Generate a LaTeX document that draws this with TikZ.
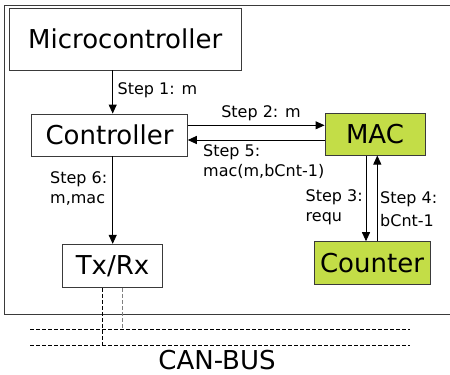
\documentclass[tikz,border=0pt]{standalone}
\usepackage{fontspec}
\setmainfont{DejaVu Sans}
\usetikzlibrary{arrows.meta}
\definecolor{limegreen}{HTML}{C3DD47}
\definecolor{edgegray}{HTML}{3A3A3A}
\tikzset{
  unit/.style={draw=edgegray, line width=0.9pt, inner sep=0pt, font=\fontsize{26}{30}\selectfont},
  hw/.style={unit, fill=limegreen},
  flow/.style={draw=black, line width=0.9pt, -{Triangle[length=9pt,width=8pt]}},
  steplbl/.style={font=\fontsize{16}{20}\selectfont, inner sep=0pt, align=left},
  bus/.style={line width=0.7pt, dash pattern=on 4pt off 2pt},
}
\begin{document}
\begin{tikzpicture}[x=1pt, y=-1pt]
\useasboundingbox (0,0) rectangle (450,375);
% enclosing frame of the node
\draw[draw=edgegray, line width=0.9pt] (4.5,5) rectangle (460,314.7);

% blocks
\node[unit, minimum width=232pt, minimum height=62pt] (mcu) at (125.2,39) {Microcontroller};
\node[unit, fill=white, minimum width=155.6pt, minimum height=42pt] (ctrl) at (109.5,135) {Controller};
\node[hw, minimum width=100pt, minimum height=41.7pt] (mac) at (375,134.2) {MAC};
\node[hw, minimum width=116pt, minimum height=42.3pt] (cnt) at (372,262.8) {Counter};
\node[unit, minimum width=100.4pt, minimum height=43pt] (trx) at (112.5,265.8) {Tx/Rx};

% message flow
\draw[flow] (mcu.south -| 112.7,0) -- (ctrl.north -| 112.7,0);
\node[steplbl, anchor=west] (l1) at (117.5,90) {Step 1: m};

\draw[flow] (ctrl.east |- 0,125.3) -- (mac.west |- 0,125.3);
\node[steplbl] (l2) at (261,113) {Step 2: m};

\draw[flow] (mac.west |- 0,140) -- (ctrl.east |- 0,140);
\node[steplbl, anchor=north west] (l5) at (203,144.5) {Step 5:\\mac(m,bCnt-1)};

\draw[flow] (ctrl.south -| 112.7,0) -- (trx.north -| 112.7,0);
\node[steplbl, anchor=north west] (l6) at (50,171) {Step 6:\\m,mac};

\draw[flow] (mac.south -| 366,0) -- (cnt.north -| 366,0);
\node[steplbl, anchor=north west] (l3) at (305.5,189.5) {Step 3:\\requ};

\draw[flow] (cnt.north -| 377.3,0) -- (mac.south -| 377.3,0);
\node[steplbl, anchor=north west] (l4) at (380,191) {Step 4:\\[3pt]bCnt-1};

% bus attachment
\coordinate (busA) at (30,329);
\coordinate (busAe) at (410,329);
\coordinate (busB) at (30,345.7);
\coordinate (busBe) at (410,345.7);
\draw[bus] (busA) -- (busAe);
\draw[bus] (busB) -- (busBe);
\draw[bus] (trx.south -| 102.3,0) -- (102.3,345.7);
\draw[bus, draw=gray] (trx.south -| 122,0) -- (122,329);
\node[font=\fontsize{26}{30}\selectfont, inner sep=0pt] (canbus) at (217,360) {CAN-BUS};
\end{tikzpicture}
\end{document}
